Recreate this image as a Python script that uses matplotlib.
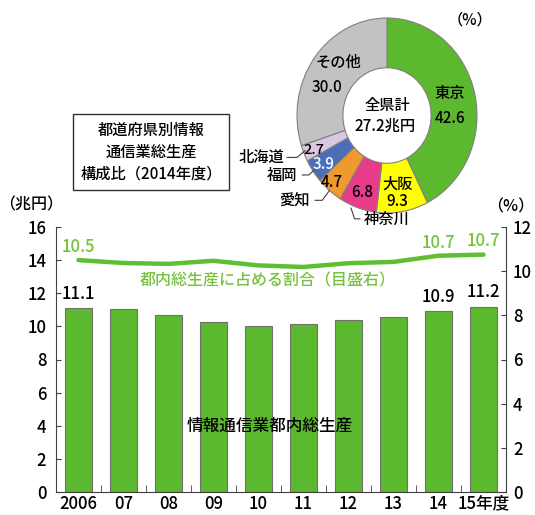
import matplotlib
matplotlib.use("Agg")
import matplotlib.pyplot as plt
import numpy as np

plt.rcParams["font.family"] = ["Noto Sans CJK JP", "DejaVu Sans"]
plt.rcParams["font.weight"] = "medium"

# bar / line data
years = ["2006", "07", "08", "09", "10", "11", "12", "13", "14", "15年度"]
gdp = [11.1, 11.05, 10.7, 10.25, 10.0, 10.15, 10.4, 10.55, 10.9, 11.2]
share = [10.5, 10.37, 10.33, 10.47, 10.26, 10.19, 10.36, 10.42, 10.7, 10.75]
gdp_labels = {0: "11.1", 8: "10.9", 9: "11.2"}
share_labels = {0: "10.5", 8: "10.7", 9: "10.7"}

# donut data
prefs = ["東京", "大阪", "神奈川", "愛知", "福岡", "北海道", "その他"]
pct = [42.6, 9.3, 6.8, 4.7, 3.9, 2.7, 30.0]
pref_colors = ["#5cb82e", "#ffff00", "#e83c8a", "#f0992e", "#4a6fb8", "#dac8e2", "#c2c2c2"]

bar_green = "#5cb82e"
line_green = "#5fbe32"
text_green = "#76c23e"
spine_c = "#404040"

fig = plt.figure(figsize=(5.35, 5.15), dpi=100)
W, H = 535, 515


def rect(l, t, r, b):
    return [l / W, 1 - b / H, (r - l) / W, (b - t) / H]


ax = fig.add_axes(rect(56, 227, 506, 492))
x = np.arange(len(years))
ax.bar(x, gdp, width=0.6, color=bar_green, edgecolor="#707070", linewidth=0.8, zorder=2)
ax.set_xlim(-0.5, len(years) - 0.5)
ax.set_ylim(0, 16)
ax.set_yticks(range(0, 17, 2))
ax.set_xticks(x)
ax.set_xticklabels(years)
ax.set_xticks(x[:-1] + 0.5, minor=True)
ax.tick_params(axis="x", which="major", length=0, pad=2, labelsize=12)
ax.tick_params(axis="x", which="minor", direction="in", length=5, color=spine_c)
ax.tick_params(axis="y", direction="in", length=3.5, pad=7, labelsize=12, color=spine_c)
for s in ["top", "right"]:
    ax.spines[s].set_visible(False)
for s in ["left", "bottom"]:
    ax.spines[s].set_color(spine_c)

for i, lab in gdp_labels.items():
    ax.annotate(lab, (x[i], gdp[i]), xytext=(0, 4), textcoords="offset points",
                ha="center", va="bottom", fontsize=12)

ax.text(4.25, 4.0, "情報通信業都内総生産", ha="center", va="center", fontsize=12, zorder=3)
ax.text(4.2, 12.75, "都内総生産に占める割合（目盛右）", ha="center", va="center",
        fontsize=11.5, color=text_green)

ax2 = ax.twinx()
ax2.plot(x, share, color=line_green, linewidth=3.2, solid_capstyle="round", zorder=3)
ax2.set_ylim(0, 12)
ax2.set_yticks(range(0, 13, 2))
ax2.tick_params(axis="y", direction="in", length=3.5, pad=5, labelsize=12, color=spine_c)
for s in ["top", "left", "bottom"]:
    ax2.spines[s].set_visible(False)
ax2.spines["right"].set_color(spine_c)
for i, lab in share_labels.items():
    ax2.annotate(lab, (x[i], share[i]), xytext=(0, 3), textcoords="offset points",
                 ha="center", va="bottom", fontsize=12, color=text_green)

fig.text(31 / W, 1 - 205 / H, "（兆円）", ha="center", va="center", fontsize=11.5)
fig.text(534 / W, 1 - 207 / H, "（%）", ha="right", va="center", fontsize=11.5)

# donut
axd = fig.add_axes(rect(297, 18, 477, 213))
axd.pie(pct, colors=pref_colors, startangle=90, counterclock=False, radius=1,
        wedgeprops=dict(width=0.51, edgecolor="#808080", linewidth=0.8))
axd.set_aspect("auto")
axd.set_xlim(-1, 1)
axd.set_ylim(-1, 1)
axd.axis("off")

fs = 11
inside = [
    (0.70, 0.23, "東京", "black"), (0.70, -0.03, "42.6", "black"),
    (0.12, -0.70, "大阪", "black"), (0.12, -0.88, "9.3", "black"),
    (-0.27, -0.79, "6.8", "black"), (-0.61, -0.69, "4.7", "black"),
    (-0.70, -0.50, "3.9", "white"),
    (-0.54, 0.55, "その他", "black"), (-0.67, 0.29, "30.0", "black"),
    (0.0, 0.10, "全県計", "black"), (-0.02, -0.11, "27.2兆円", "black"),
]
for tx, ty, s, c in inside:
    axd.text(tx, ty, s, ha="center", va="center", fontsize=fs, color=c, clip_on=False)
axd.text(-0.81, -0.35, "2.7", ha="center", va="center", fontsize=10.5, clip_on=False)

outside = [
    (-1.14, -0.43, "北海道", [(-1.11, -0.43), (-1.0, -0.43), (-0.91, -0.36)]),
    (-1.0, -0.61, "福岡", [(-0.94, -0.61), (-0.87, -0.61), (-0.81, -0.56)]),
    (-0.86, -0.87, "愛知", [(-0.80, -0.87), (-0.72, -0.87), (-0.64, -0.77)]),
]
for tx, ty, s, pts in outside:
    axd.text(tx, ty, s, ha="right", va="center", fontsize=fs, clip_on=False)
    px, py = zip(*pts)
    axd.plot(px, py, color="#404040", linewidth=0.8, clip_on=False)
axd.plot([-0.40, -0.36, -0.30], [-0.95, -1.06, -1.06], color="#404040", linewidth=0.8, clip_on=False)
axd.text(-0.26, -1.07, "神奈川", ha="left", va="center", fontsize=fs, clip_on=False)
axd.text(0.92, 0.98, "（%）", ha="center", va="center", fontsize=11, clip_on=False)

# title box
fig.text(151 / W, 1 - 152 / H, "都道府県別情報\n通信業総生産\n構成比（2014年度）", ha="center", va="center",
         fontsize=11, linespacing=1.35,
         bbox=dict(boxstyle="square,pad=0.5", facecolor="white", edgecolor="#303030", linewidth=1))

fig.savefig("out.png", dpi=100)
